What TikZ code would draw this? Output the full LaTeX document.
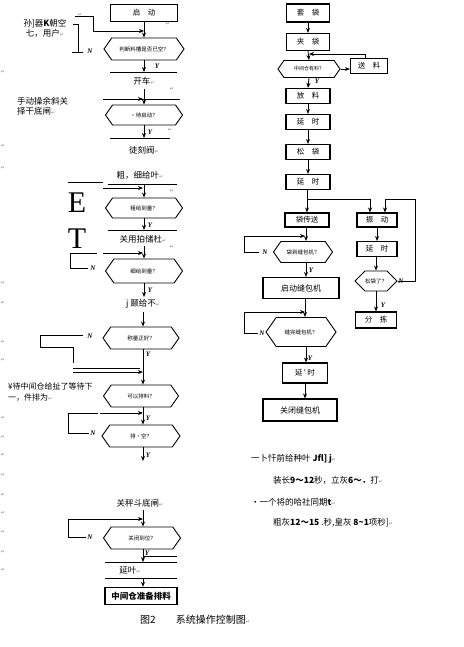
\documentclass[tikz,border=0pt]{standalone}
\usepackage{fontspec}
\setmainfont{Liberation Serif}
\newfontfamily\cjk{Noto Sans CJK SC}
\newfontfamily\symf{DejaVu Sans}
\usetikzlibrary{shapes.symbols,arrows.meta}
\newcommand{\rtn}{{\symf\fontsize{5}{5}\selectfont\textcolor{gray}{↵}}}
\tikzset{
 ln/.style={line width=0.8pt},
 arr/.style={ln,-{Stealth[length=5pt,width=4pt]}},
 box/.style={draw,line width=1.1pt,minimum width=44pt,minimum height=16pt,inner sep=0pt,font=\cjk\fontsize{7.5}{8}\selectfont},
 dia/.style={draw,line width=0.9pt,shape=signal,signal to=west and east,signal pointer angle=110,inner sep=0pt,font=\cjk\fontsize{5.5}{6}\selectfont},
 lbl/.style={font=\cjk\fontsize{8.5}{10}\selectfont,inner sep=0pt},
 note/.style={font=\cjk\fontsize{8.5}{11}\selectfont,inner sep=0pt,anchor=west},
 yn/.style={font=\bfseries\itshape\fontsize{7}{8}\selectfont,inner sep=0pt},
 pmk/.style={inner sep=0pt,font=\symf\fontsize{5}{5}\selectfont,text=gray},
}
\begin{document}
\begin{tikzpicture}[x=1pt,y=-1pt]
\useasboundingbox[fill=white] (0,0) rectangle (463,647);

% ================= left column =================
\node[box,minimum width=67pt,minimum height=17pt] (start) at (144,13) {启\quad 动};
\node[dia,minimum width=80pt,minimum height=22pt] (d1) at (144,49) {判断料槽是否已空？};
\draw[arr] (start.south) -- (d1.north);
\coordinate (s1) at (144,72);
\draw[arr] (d1.south) -- (s1);
\draw[ln] (110,72) -- (177,72);
\node[yn] at (157,66) {Y};
\node[lbl] (kc) at (144,81) {开车\rtn};
\node[lbl,align=center] (t1) at (45,28) {孙]器\textbf{K}朝空\\七，用户\rtn};
\coordinate (f1a) at (75,16);
\coordinate (f1b) at (93,16);
\coordinate (f1c) at (93,31);
\draw[arr] (f1a) -- (f1b) -- (f1c) -- (f1c -| d1.north);
\draw[ln] (73,24) -- (78,24) -- (78,52) -- (83,52);
\draw[ln] (72,52) -- (78,52);
\node[yn] at (90,51) {N};

\node[lbl,align=left,anchor=west] (t2) at (17,106) {手动操余斜关\\择干底闸\rtn};
\node[dia,minimum width=77pt,minimum height=20pt] (d2) at (144,115) {·待启动？};
\coordinate (v2) at (144,89);
\draw[arr] (v2) -- (d2.north);
\draw[ln] (103,99) -- (180,99);
\draw[arr] (112,99) -- (143,99);
\coordinate (s2) at (144,138);
\draw[arr] (d2.south) -- (s2);
\draw[ln] (110,138) -- (170,138);
\node[yn] at (150,132) {Y};
\node[lbl] (kz) at (144,150) {徒刻阀\rtn};

\node[lbl] (cx) at (140,175) {粗，细给叶\rtn};
\draw[ln] (108,184) -- (177,184);
\draw[ln] (68,182) -- (103,182);
\node[inner sep=0pt,font=\fontsize{30}{30}\selectfont] (E) at (77,203) {E};
\node[inner sep=0pt,font=\fontsize{30}{30}\selectfont] (T) at (77,239) {T};
\node[dia,minimum width=77pt,minimum height=20pt] (d3) at (144,208) {粗给到量？};
\coordinate (v3) at (144,184);
\draw[arr] (v3) -- (d3.north);
\draw[arr] (103,188) -- (143,188);
\coordinate (s3) at (144,230);
\draw[arr] (d3.south) -- (s3);
\draw[ln] (108,230) -- (177,230);
\node[yn] at (150,225) {Y};
\node[lbl] (gy) at (143,239) {关用拍储杜\rtn};

\node[dia,minimum width=77pt,minimum height=24pt] (d4) at (144,271) {细给到量？};
\coordinate (v4) at (144,246);
\draw[arr] (v4) -- (d4.north);
\draw[ln] (70,253) -- (97,253);
\draw[arr] (103,253) -- (143,253);
\draw[ln] (70,253) -- (70,268) -- (88,268);
\node[yn] at (93,268) {N};
\coordinate (s4) at (144,297);
\draw[arr] (d4.south) -- (s4);
\node[yn] at (150,290) {Y};
\node[lbl] (jg) at (143,304) {j 颞给不\rtn};

\node[dia,minimum width=76pt,minimum height=22pt] (d5) at (141,338) {称量正好？};
\coordinate (v5) at (143,312);
\draw[arr] (v5) -- (d5.north -| v5);
\node[yn] at (90,336) {N};
\draw[ln] (83,335) -- (40,335) -- (40,347) -- (73,347) -- (73,363);
\draw[ln] (73,368) -- (140,368);
\draw[arr] (73,372) -- (143,372);
\node[yn] at (148,354) {Y};
\node[lbl,align=left,anchor=west,font=\cjk\fontsize{8}{10.5}\selectfont] (t3) at (8,392) {¥待中间仓给扯了等待下\\一，件排为\rtn};
\node[dia,minimum width=75pt,minimum height=22pt] (d6) at (141,396) {可以排料？};
\draw[arr] (d5.south -| 143,0) -- (d6.north -| 143,0);
\draw[ln] (68,413) -- (98,413);
\draw[arr] (100,413) -- (143,413);
\draw[ln] (68,413) -- (68,433) -- (89,433);
\node[yn] at (93,433) {N};
\node[yn] at (148,418) {Y};
\node[dia,minimum width=78pt,minimum height=22pt] (d7) at (141,436) {排·空？};
\draw[arr] (d6.south -| 143,0) -- (d7.north -| 143,0);
\coordinate (s7) at (143,461);
\draw[arr] (d7.south -| 143,0) -- (s7);
\node[yn] at (148,455) {Y};

\node[lbl] (gx) at (140,503) {关秤斗底闸\rtn};
\node[dia,minimum width=77pt,minimum height=22pt] (d8) at (142,538) {关闭到位？};
\coordinate (v8) at (143,510);
\draw[arr] (v8) -- (d8.north -| v8);
\draw[arr] (68,519) -- (143,519);
\draw[ln] (68,519) -- (68,537) -- (86,537);
\node[yn] at (90,537) {N};
\node[yn] at (147,553) {Y};
\coordinate (s8) at (143,562);
\draw[arr] (d8.south -| s8) -- (s8);
\draw[ln] (143,556) -- (177,556);
\draw[ln] (105,562) -- (177,562);
\node[lbl] (ys) at (130,570) {延叶\rtn};
\draw[ln] (105,578) -- (177,578);
\node[box,minimum width=72pt,minimum height=17pt,line width=1.4pt,font=\cjk\bfseries\fontsize{8.5}{9}\selectfont] (fin) at (141,596) {中间仓准备排料};
\draw[arr] (143,578) -- (fin.north -| 143,0);

\node[anchor=west,inner sep=0pt,font=\cjk\fontsize{10}{11}\selectfont] (cap) at (140,620) {图2\hspace{20pt}系统操作控制图\rtn};

% ================= right column =================
\node[box,minimum width=43pt,minimum height=18pt] (b1) at (308,13) {套\quad 袋};
\node[box,minimum width=43pt,minimum height=17pt] (b2) at (308,42) {夹\quad 袋};
\node[dia,minimum width=62pt,minimum height=17pt,font=\cjk\fontsize{5}{6}\selectfont] (d9) at (309,69) {中间仓有料？};
\node[box,minimum width=37pt,minimum height=15pt] (b3) at (369,66) {送\quad 料};
\draw[arr] (b1.south) -- (b2.south |- b2.north);
\draw[arr] (b2.south) -- (d9.north);
\draw[arr] (d9.east) -- (b3.west |- d9.east);
\coordinate (fb3) at (365,54);
\draw[arr] (b3.north -| fb3) -- (fb3) -- (309,54);
\node[yn] at (317,81) {Y};
\node[box,minimum width=44pt,minimum height=15pt] (b4) at (308,96) {放\quad 料};
\draw[arr] (d9.south) -- (b4.north);
\node[box,minimum width=44pt,minimum height=15pt] (b5) at (308,122) {延\quad 时};
\draw[arr] (b4.south) -- (b5.north);
\node[box,minimum width=44pt,minimum height=15pt] (b6) at (308,152) {松\quad 袋};
\draw[arr] (b5.south) -- (b6.north);
\node[box,minimum width=44pt,minimum height=15pt] (b7) at (308,182) {延\quad 时};
\draw[arr] (b6.south) -- (b7.north);

\node[box,minimum width=44pt,minimum height=14pt] (b8) at (307,220) {袋传送};
\node[box,minimum width=40pt,minimum height=14pt] (b9) at (377,220) {振\quad 动};
\coordinate (j1) at (307,199);
\coordinate (j2) at (370,199);
\draw[ln] (b7.south -| j1) -- (j1) -- (j2);
\draw[arr] (j1) -- (b8.north -| j1);
\draw[arr] (j2) -- (b9.north -| j2);
\node[box,minimum width=40pt,minimum height=15pt] (b10) at (377,249) {延\quad 时};
\draw[arr] (b9.south) -- (b10.north);
\node[dia,minimum width=40pt,minimum height=20pt,signal pointer angle=90] (d11) at (376,281) {松袋了？};
\draw[arr] (b10.south -| d11.north) -- (d11.north);
\coordinate (r1) at (415,281);
\coordinate (r2) at (415,199);
\coordinate (r3) at (385,199);
\draw[arr] (d11.east) -- (r1) -- (r2) -- (r3) -- (b9.north -| r3);
\node[yn] at (401,281) {N};
\node[box,minimum width=41pt,minimum height=16pt] (b11) at (376,320) {分\quad 拣};
\draw[arr] (d11.south) -- (b11.north);
\node[yn] at (383,305) {Y};

\node[dia,minimum width=59pt,minimum height=21pt] (d10) at (303,252) {袋到缝包机？};
\draw[arr] (b8.south -| 306,0) -- (d10.north -| 306,0);
\draw[arr] (244,236) -- (305,236);
\draw[ln] (244,236) -- (244,252) -- (259,252);
\node[yn] at (265,252) {N};
\node[box,minimum width=76pt,minimum height=21pt,font=\cjk\fontsize{8}{9}\selectfont] (b12) at (301,288) {启动缝包机};
\draw[arr] (d10.south -| 306,0) -- (b12.north -| 306,0);
\node[yn] at (311,270) {Y};
\node[dia,minimum width=70pt,minimum height=29pt] (d12) at (301,332) {缝完缝包机？};
\draw[arr] (b12.south -| 305,0) -- (d12.north -| 305,0);
\draw[arr] (244,312) -- (305,312);
\draw[ln] (244,312) -- (244,333) -- (258,333);
\node[yn] at (262,333) {N};
\node[box,minimum width=45pt,minimum height=20pt] (b13) at (305,373) {延\,'\,时};
\draw[arr] (d12.south -| 306,0) -- (b13.north -| 306,0);
\node[yn] at (310,358) {Y};
\node[box,minimum width=74pt,minimum height=22pt,font=\cjk\fontsize{8}{9}\selectfont] (b14) at (300,410) {关闭缝包机};
\draw[arr] (b13.south -| 305,0) -- (b14.north -| 305,0);

% notes
\node[note] (n1) at (251,459) {一卜忏前给种叶 \textbf{Jfl]} \textbf{j}\rtn};
\node[note] (n2) at (273,480) {装长\textbf{9～12}秒，立灰\textbf{6～．}打\rtn};
\node[note] (n3) at (251,502) {·一个将的哈社同期\textbf{t}\rtn};
\node[note] (n4) at (273,523) {粗灰\textbf{12～15} .秒,皇灰 \textbf{8\textasciitilde 1}项秒]\rtn};

% paragraph marks
\foreach \yy in {72,146,168,283,303,342,360,418,437,455,475,495,513,532,552,570}
  \node[pmk] at (3,\yy) {↵};
\foreach \xx/\yy in {80/15,168/24,172/89,170/130,172/191,172/247}
  \node[pmk] at (\xx,\yy) {↵};
\end{tikzpicture}
\end{document}
